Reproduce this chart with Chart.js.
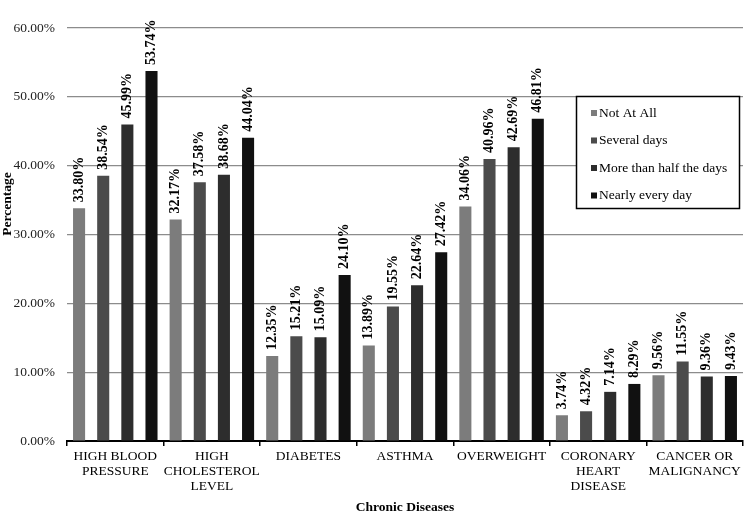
<!DOCTYPE html>
<html>
<head>
<meta charset="utf-8">
<script src="https://cdn.jsdelivr.net/npm/chart.js@4/dist/chart.umd.min.js"></script>
<style>
  html, body { margin: 0; padding: 0; background: #fff; }
  #wrap { width: 750px; height: 520px; }
</style>
</head>
<body>
<div id="wrap"><canvas id="chart" width="750" height="520"></canvas></div>
<script>
const categories = [
  ["HIGH BLOOD", "PRESSURE"],
  ["HIGH", "CHOLESTEROL", "LEVEL"],
  ["DIABETES"],
  ["ASTHMA"],
  ["OVERWEIGHT"],
  ["CORONARY", "HEART", "DISEASE"],
  ["CANCER OR", "MALIGNANCY"]
];
const seriesNames = ["Not At All", "Several days", "More than half the days", "Nearly every day"];
const notAtAll      = [33.80, 32.17, 12.35, 13.89, 34.06, 3.74, 9.56];
const severalDays   = [38.54, 37.58, 15.21, 19.55, 40.96, 4.32, 11.55];
const moreThanHalf  = [45.99, 38.68, 15.09, 22.64, 42.69, 7.14, 9.36];
const nearlyEvery   = [53.74, 44.04, 24.10, 27.42, 46.81, 8.29, 9.43];
const colors = ["#7c7c7c", "#4b4b4b", "#2d2d2d", "#111111"];

const serif = "'Liberation Serif', 'DejaVu Serif', serif";

// value labels rotated above each bar
const barLabels = {
  id: "barLabels",
  afterDatasetsDraw(chart) {
    const ctx = chart.ctx;
    ctx.save();
    ctx.font = "bold 14px " + serif;
    ctx.fillStyle = "#000";
    ctx.textAlign = "left";
    ctx.textBaseline = "middle";
    chart.data.datasets.forEach((ds, i) => {
      chart.getDatasetMeta(i).data.forEach((bar, j) => {
        ctx.save();
        ctx.translate(bar.x, bar.y - 6);
        ctx.rotate(-Math.PI / 2);
        ctx.fillText(ds.data[j].toFixed(2) + "%", 0, 0);
        ctx.restore();
      });
    });
    ctx.restore();
  }
};

// boxed legend inside the plot + y axis title (sits above centre in the original)
const boxLegend = {
  id: "boxLegend",
  afterDraw(chart) {
    const ctx = chart.ctx;
    const x = 576, y = 96, w = 163, h = 112;
    ctx.save();
    ctx.fillStyle = "#fff";
    ctx.fillRect(x, y, w, h);
    ctx.strokeStyle = "#000";
    ctx.lineWidth = 1.5;
    ctx.strokeRect(x + 0.5, y + 0.5, w, h);
    ctx.font = "13.5px " + serif;
    ctx.textBaseline = "middle";
    chart.data.datasets.forEach((ds, i) => {
      const cy = y + 17 + i * 27.5;
      ctx.fillStyle = ds.backgroundColor;
      ctx.fillRect(x + 15, cy - 3, 6, 6);
      ctx.fillStyle = "#000";
      ctx.fillText(ds.label, x + 23, cy);
    });

    ctx.translate(8, 204);
    ctx.rotate(-Math.PI / 2);
    ctx.font = "bold 13.5px " + serif;
    ctx.textAlign = "center";
    ctx.fillText("Percentage", 0, 0);
    ctx.restore();
  }
};

const datasets = [notAtAll, severalDays, moreThanHalf, nearlyEvery].map((d, i) => ({
  label: seriesNames[i],
  data: d,
  backgroundColor: colors[i],
  barPercentage: 0.5,
  categoryPercentage: 1.0
}));

new Chart(document.getElementById("chart"), {
  type: "bar",
  data: { labels: categories, datasets },
  plugins: [barLabels, boxLegend],
  options: {
    responsive: false,
    animation: false,
    layout: { padding: { top: 28, right: 7, left: 0, bottom: 0 } },
    plugins: {
      legend: { display: false },
      tooltip: { enabled: false }
    },
    scales: {
      x: {
        afterFit(scale) { scale.height = 79; },
        grid: {
          offset: true,
          drawOnChartArea: false,
          drawTicks: true,
          tickLength: 5,
          color: "#000",
          lineWidth: 1.5
        },
        border: { color: "#000", width: 2 },
        ticks: {
          color: "#000",
          font: { family: serif, size: 13.5, lineHeight: 1.12 },
          maxRotation: 0,
          autoSkip: false,
          padding: 3
        },
        title: {
          display: true,
          text: "Chronic Diseases",
          color: "#000",
          font: { family: serif, size: 13.5, weight: "bold" },
          padding: { top: 0, bottom: 4 }
        }
      },
      y: {
        afterFit(scale) { scale.width = 67; },
        min: 0,
        max: 60,
        grid: { color: "#8c8c8c", lineWidth: 1.2, drawTicks: false },
        border: { display: false },
        ticks: {
          stepSize: 10,
          color: "#222",
          font: { family: serif, size: 13.5 },
          padding: 12,
          callback: v => v.toFixed(2) + "%"
        }
      }
    }
  }
});
</script>
</body>
</html>
